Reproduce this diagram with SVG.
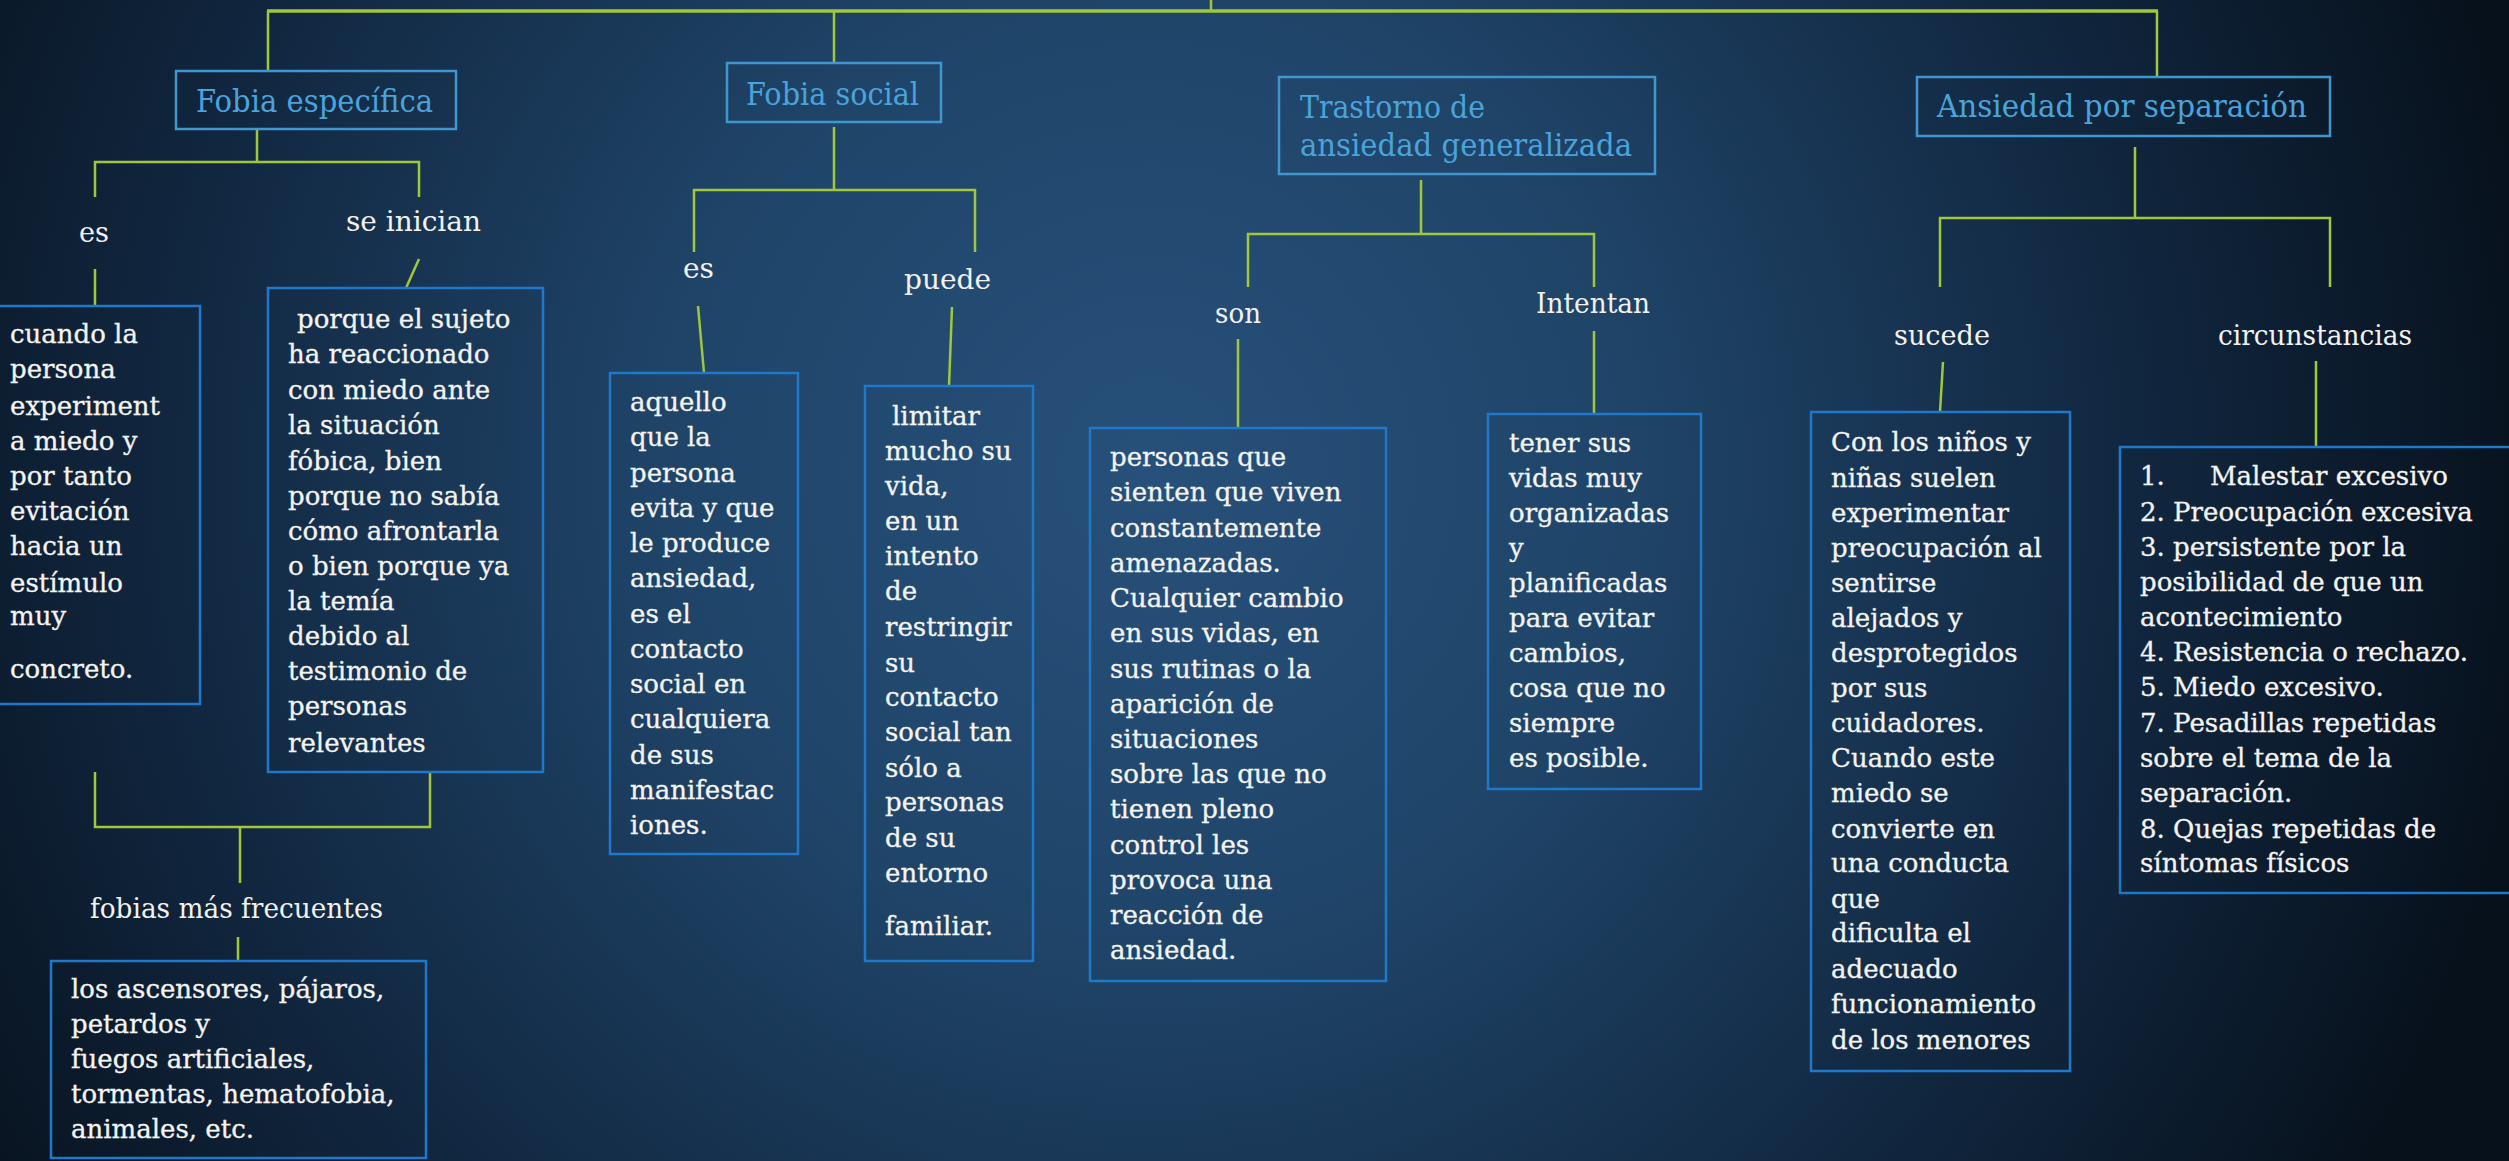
<svg xmlns="http://www.w3.org/2000/svg" width="2509" height="1161" viewBox="0 0 2509 1161">
<style>
.bg{fill:url(#bgGrad)}
.conn{fill:none;stroke:#a0c83a;stroke-width:2.5;stroke-linecap:butt}
.top{stroke-width:3.5}
.hbox{fill:none;stroke:#4296cf;stroke-width:2.5}
.htxt{font-family:"DejaVu Serif","Liberation Serif",serif;font-size:31px;fill:#4aa3da}
.lbl{font-family:"DejaVu Serif","Liberation Serif",serif;font-size:28px;fill:#f2f2f2}
.bbox{fill:none;stroke:#1f78c9;stroke-width:2.5}
.btxt{font-family:"DejaVu Serif","Liberation Serif",serif;font-size:26px;fill:#f4f4f4;stroke:#f4f4f4;stroke-width:0.3}
</style>
<defs>
<radialGradient id="bgGrad" gradientUnits="userSpaceOnUse" cx="1150" cy="470" r="1400">
<stop offset="0" stop-color="#27507a"/>
<stop offset="0.35" stop-color="#1f4468"/>
<stop offset="0.7" stop-color="#112740"/>
<stop offset="1" stop-color="#07111c"/>
</radialGradient>
</defs>
<rect class="bg" x="0" y="0" width="2509" height="1161"/>

<g id="connectors">
<path class="conn" d="M1211,0 V11"/>
<path class="conn top" d="M267,11 H2158"/>
<path class="conn" d="M268,11 V71"/>
<path class="conn" d="M834,11 V63"/>
<path class="conn" d="M2157,11 V77"/>
<path class="conn" d="M257,129 V162"/>
<path class="conn" d="M95,197 V162 H419 V197"/>
<path class="conn" d="M95,269 V306"/>
<path class="conn" d="M419,259 L406,288"/>
<path class="conn" d="M95,772 V827 H430 V772"/>
<path class="conn" d="M240,827 V883"/>
<path class="conn" d="M238,937 V961"/>
<path class="conn" d="M834,127 V190"/>
<path class="conn" d="M694,252 V190 H975 V252"/>
<path class="conn" d="M698,306 L704,373"/>
<path class="conn" d="M952,307 L949,386"/>
<path class="conn" d="M1421,180 V234"/>
<path class="conn" d="M1248,287 V234 H1594 V287"/>
<path class="conn" d="M1238,339 V428"/>
<path class="conn" d="M1594,331 V414"/>
<path class="conn" d="M2135,147 V218"/>
<path class="conn" d="M1940,287 V218 H2330 V287"/>
<path class="conn" d="M1943,362 L1940,412"/>
<path class="conn" d="M2316,361 V447"/>
</g>

<g id="n-fobia-especifica">
<rect class="hbox" x="176" y="71" width="280" height="58"/>
<text class="htxt" x="196" y="112" textLength="237" lengthAdjust="spacingAndGlyphs">Fobia específica</text>
</g>
<g id="n-fobia-social">
<rect class="hbox" x="727" y="63" width="214" height="59"/>
<text class="htxt" x="746" y="105" textLength="173" lengthAdjust="spacingAndGlyphs">Fobia social</text>
</g>
<g id="n-trastorno">
<rect class="hbox" x="1279" y="77" width="376" height="97"/>
<text class="htxt" x="1300" y="118" textLength="185" lengthAdjust="spacingAndGlyphs">Trastorno de</text>
<text class="htxt" x="1300" y="156" textLength="332" lengthAdjust="spacingAndGlyphs">ansiedad generalizada</text>
</g>
<g id="n-ansiedad-separacion">
<rect class="hbox" x="1917" y="77" width="413" height="59"/>
<text class="htxt" x="1937" y="117" textLength="370" lengthAdjust="spacingAndGlyphs">Ansiedad por separación</text>
</g>

<g id="l-es-1"><text class="lbl" x="79" y="242" textLength="30" lengthAdjust="spacingAndGlyphs">es</text></g>
<g id="l-se-inician"><text class="lbl" x="346" y="231" textLength="135" lengthAdjust="spacingAndGlyphs">se inician</text></g>
<g id="l-es-2"><text class="lbl" x="683" y="278" textLength="31" lengthAdjust="spacingAndGlyphs">es</text></g>
<g id="l-puede"><text class="lbl" x="904" y="289" textLength="87" lengthAdjust="spacingAndGlyphs">puede</text></g>
<g id="l-son"><text class="lbl" x="1215" y="323" textLength="46" lengthAdjust="spacingAndGlyphs">son</text></g>
<g id="l-intentan"><text class="lbl" x="1536" y="313" textLength="114" lengthAdjust="spacingAndGlyphs">Intentan</text></g>
<g id="l-sucede"><text class="lbl" x="1894" y="345" textLength="96" lengthAdjust="spacingAndGlyphs">sucede</text></g>
<g id="l-circunstancias"><text class="lbl" x="2218" y="345" textLength="194" lengthAdjust="spacingAndGlyphs">circunstancias</text></g>
<g id="l-fobias-frecuentes"><text class="lbl" x="90" y="918" textLength="293" lengthAdjust="spacingAndGlyphs">fobias más frecuentes</text></g>

<g id="b-cuando">
<rect class="bbox" x="-3" y="306" width="203" height="398"/>
<text class="btxt">
<tspan x="10" y="343">cuando la</tspan>
<tspan x="10" y="378">persona</tspan>
<tspan x="10" y="415">experiment</tspan>
<tspan x="10" y="450">a miedo y</tspan>
<tspan x="10" y="485">por tanto</tspan>
<tspan x="10" y="520">evitación</tspan>
<tspan x="10" y="555">hacia un</tspan>
<tspan x="10" y="592">estímulo</tspan>
<tspan x="10" y="625">muy</tspan>
<tspan x="10" y="678">concreto.</tspan>
</text>
</g>

<g id="b-porque">
<rect class="bbox" x="268" y="288" width="275" height="484"/>
<text class="btxt">
<tspan x="297" y="328">porque el sujeto</tspan>
<tspan x="288" y="363">ha reaccionado</tspan>
<tspan x="288" y="399">con miedo ante</tspan>
<tspan x="288" y="434">la situación</tspan>
<tspan x="288" y="470">fóbica, bien</tspan>
<tspan x="288" y="505">porque no sabía</tspan>
<tspan x="288" y="540">cómo afrontarla</tspan>
<tspan x="288" y="575">o bien porque ya</tspan>
<tspan x="288" y="610">la temía</tspan>
<tspan x="288" y="645">debido al</tspan>
<tspan x="288" y="680">testimonio de</tspan>
<tspan x="288" y="715">personas</tspan>
<tspan x="288" y="752">relevantes</tspan>
</text>
</g>

<g id="b-ascensores">
<rect class="bbox" x="51" y="961" width="375" height="197"/>
<text class="btxt">
<tspan x="71" y="998">los ascensores, pájaros,</tspan>
<tspan x="71" y="1033">petardos y</tspan>
<tspan x="71" y="1068">fuegos artificiales,</tspan>
<tspan x="71" y="1103">tormentas, hematofobia,</tspan>
<tspan x="71" y="1138">animales, etc.</tspan>
</text>
</g>

<g id="b-aquello">
<rect class="bbox" x="610" y="373" width="188" height="481"/>
<text class="btxt">
<tspan x="630" y="411">aquello</tspan>
<tspan x="630" y="446">que la</tspan>
<tspan x="630" y="482">persona</tspan>
<tspan x="630" y="517">evita y que</tspan>
<tspan x="630" y="552">le produce</tspan>
<tspan x="630" y="587">ansiedad,</tspan>
<tspan x="630" y="623">es el</tspan>
<tspan x="630" y="658">contacto</tspan>
<tspan x="630" y="693">social en</tspan>
<tspan x="630" y="728">cualquiera</tspan>
<tspan x="630" y="764">de sus</tspan>
<tspan x="630" y="799">manifestac</tspan>
<tspan x="630" y="834">iones.</tspan>
</text>
</g>

<g id="b-limitar">
<rect class="bbox" x="865" y="386" width="168" height="575"/>
<text class="btxt">
<tspan x="892" y="425">limitar</tspan>
<tspan x="885" y="460">mucho su</tspan>
<tspan x="885" y="495">vida,</tspan>
<tspan x="885" y="530">en un</tspan>
<tspan x="885" y="565">intento</tspan>
<tspan x="885" y="600">de</tspan>
<tspan x="885" y="636">restringir</tspan>
<tspan x="885" y="672">su</tspan>
<tspan x="885" y="706">contacto</tspan>
<tspan x="885" y="741">social tan</tspan>
<tspan x="885" y="777">sólo a</tspan>
<tspan x="885" y="811">personas</tspan>
<tspan x="885" y="847">de su</tspan>
<tspan x="885" y="882">entorno</tspan>
<tspan x="885" y="935">familiar.</tspan>
</text>
</g>

<g id="b-personas">
<rect class="bbox" x="1090" y="428" width="296" height="553"/>
<text class="btxt">
<tspan x="1110" y="466">personas que</tspan>
<tspan x="1110" y="501">sienten que viven</tspan>
<tspan x="1110" y="537">constantemente</tspan>
<tspan x="1110" y="572">amenazadas.</tspan>
<tspan x="1110" y="607">Cualquier cambio</tspan>
<tspan x="1110" y="642">en sus vidas, en</tspan>
<tspan x="1110" y="678">sus rutinas o la</tspan>
<tspan x="1110" y="713">aparición de</tspan>
<tspan x="1110" y="748">situaciones</tspan>
<tspan x="1110" y="783">sobre las que no</tspan>
<tspan x="1110" y="818">tienen pleno</tspan>
<tspan x="1110" y="854">control les</tspan>
<tspan x="1110" y="889">provoca una</tspan>
<tspan x="1110" y="924">reacción de</tspan>
<tspan x="1110" y="959">ansiedad.</tspan>
</text>
</g>

<g id="b-tener">
<rect class="bbox" x="1488" y="414" width="213" height="375"/>
<text class="btxt">
<tspan x="1509" y="452">tener sus</tspan>
<tspan x="1509" y="487">vidas muy</tspan>
<tspan x="1509" y="522">organizadas</tspan>
<tspan x="1509" y="557">y</tspan>
<tspan x="1509" y="592">planificadas</tspan>
<tspan x="1509" y="627">para evitar</tspan>
<tspan x="1509" y="662">cambios,</tspan>
<tspan x="1509" y="697">cosa que no</tspan>
<tspan x="1509" y="732">siempre</tspan>
<tspan x="1509" y="767">es posible.</tspan>
</text>
</g>

<g id="b-ninos">
<rect class="bbox" x="1811" y="412" width="259" height="659"/>
<text class="btxt">
<tspan x="1831" y="451">Con los niños y</tspan>
<tspan x="1831" y="487">niñas suelen</tspan>
<tspan x="1831" y="522">experimentar</tspan>
<tspan x="1831" y="557">preocupación al</tspan>
<tspan x="1831" y="592">sentirse</tspan>
<tspan x="1831" y="627">alejados y</tspan>
<tspan x="1831" y="662">desprotegidos</tspan>
<tspan x="1831" y="697">por sus</tspan>
<tspan x="1831" y="732">cuidadores.</tspan>
<tspan x="1831" y="767">Cuando este</tspan>
<tspan x="1831" y="802">miedo se</tspan>
<tspan x="1831" y="838">convierte en</tspan>
<tspan x="1831" y="872">una conducta</tspan>
<tspan x="1831" y="908">que</tspan>
<tspan x="1831" y="942">dificulta el</tspan>
<tspan x="1831" y="978">adecuado</tspan>
<tspan x="1831" y="1013">funcionamiento</tspan>
<tspan x="1831" y="1049">de los menores</tspan>
</text>
</g>

<g id="b-circunstancias">
<rect class="bbox" x="2120" y="447" width="400" height="446"/>
<text class="btxt">
<tspan x="2140" y="485">1.</tspan>
<tspan x="2210" y="485">Malestar excesivo</tspan>
<tspan x="2140" y="521">2. Preocupación excesiva</tspan>
<tspan x="2140" y="556">3. persistente por la</tspan>
<tspan x="2140" y="591">posibilidad de que un</tspan>
<tspan x="2140" y="626">acontecimiento</tspan>
<tspan x="2140" y="661">4. Resistencia o rechazo.</tspan>
<tspan x="2140" y="696">5. Miedo excesivo.</tspan>
<tspan x="2140" y="732">7. Pesadillas repetidas</tspan>
<tspan x="2140" y="767">sobre el tema de la</tspan>
<tspan x="2140" y="802">separación.</tspan>
<tspan x="2140" y="838">8. Quejas repetidas de</tspan>
<tspan x="2140" y="872">síntomas físicos</tspan>
</text>
</g>
</svg>
